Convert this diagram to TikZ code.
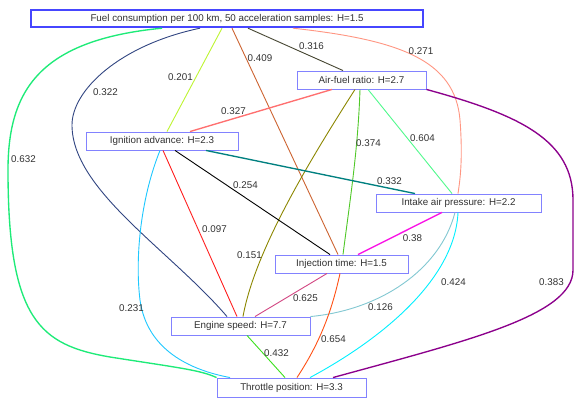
\documentclass[tikz,border=0pt]{standalone}
\usepackage{fontspec}
\setmainfont{Liberation Sans}
\begin{document}
\begin{tikzpicture}[x=1pt,y=-1pt,
  box/.style={draw={rgb,255:red,130;green,130;blue,255}, line width=0.9pt, fill=white, inner sep=0pt, minimum height=18pt, text={rgb,255:red,50;green,50;blue,50}, font=\fontsize{9.8}{11}\selectfont},
  topbox/.style={box, draw={rgb,255:red,70;green,70;blue,255}, line width=2.4pt, minimum height=17pt},
  lbl/.style={inner sep=0pt, text={rgb,255:red,50;green,50;blue,50}, font=\fontsize{9.8}{11}\selectfont},
  edge/.style={line width=0.9pt},
  thick edge/.style={line width=1.35pt}]
\definecolor{cA}{RGB}{30,235,120}
\definecolor{cB}{RGB}{50,70,130}
\definecolor{cC}{RGB}{190,245,50}
\definecolor{cD}{RGB}{205,100,50}
\definecolor{cE}{RGB}{70,70,50}
\definecolor{cF}{RGB}{255,150,130}
\definecolor{cG}{RGB}{255,112,112}
\definecolor{cH}{RGB}{140,135,0}
\definecolor{cI}{RGB}{80,200,40}
\definecolor{cJ}{RGB}{80,250,140}
\definecolor{cK}{RGB}{140,0,140}
\definecolor{cL}{RGB}{0,128,128}
\definecolor{cM}{RGB}{255,32,32}
\definecolor{cN}{RGB}{30,200,255}
\definecolor{cO}{RGB}{250,20,230}
\definecolor{cP}{RGB}{130,200,210}
\definecolor{cQ}{RGB}{0,240,255}
\definecolor{cR}{RGB}{210,70,130}
\definecolor{cS}{RGB}{255,80,20}
\definecolor{cT}{RGB}{60,225,30}
\useasboundingbox (0,0) rectangle (580,403);
\fill[white] (0,0) rectangle (580,403);

\node[topbox, minimum width=392pt] (fuel) at (227,18.5) {Fuel consumption per 100 km, 50 acceleration samples: H=1.5};
\node[box, minimum width=129pt] (afr) at (361.5,80) {Air-fuel ratio: H=2.7};
\node[box, minimum width=152pt] (ign) at (162,141) {Ignition advance: H=2.3};
\node[box, minimum width=165pt] (iap) at (458.5,203) {Intake air pressure: H=2.2};
\node[box, minimum width=133pt] (inj) at (341.5,264) {Injection time: H=1.5};
\node[box, minimum width=139pt] (eng) at (240.5,326) {Engine speed: H=7.7};
\node[box, minimum width=149pt, minimum height=19pt] (thr) at (291.5,387.5) {Throttle position: H=3.3};

% edges from fuel
\draw[thick edge, cA] ([xshift=-65pt]fuel.south) .. controls (40,40) and (8,90) .. (8,170)
   .. controls (8,320) and (40,345) .. (110,357) .. controls (180,368) and (200,370) .. (thr.north west);
\draw[edge, cB] ([xshift=-27pt]fuel.south) .. controls (120,45) and (72,90) .. (72,125)
   .. controls (72,190) and (170,250) .. ([xshift=-13.5pt]eng.north);
\draw[edge, cC] ([xshift=-5pt]fuel.south) -- ([xshift=5pt]ign.north);
\draw[edge, cD] ([xshift=5pt]fuel.south) -- ([xshift=-3.5pt]inj.north);
\draw[edge, cE] ([xshift=21pt]fuel.south) -- ([xshift=-18.5pt]afr.north);
\draw[edge, cF] ([xshift=66pt]fuel.south) .. controls (400,40) and (455,60) .. (460,120)
   .. controls (463,160) and (460,180) .. ([xshift=-0.5pt]iap.north);
% edges from air-fuel ratio
\draw[thick edge, cG] ([xshift=-29.5pt]afr.south) -- ([xshift=28pt]ign.north);
\draw[edge, cH] ([xshift=-6.5pt]afr.south) .. controls (310,160) and (255,250) .. ([xshift=2.5pt]eng.north);
\draw[edge, cI] ([xshift=-1.5pt]afr.south) .. controls (358,150) and (350,200) .. ([xshift=1.5pt]inj.north);
\draw[edge, cJ] ([xshift=6.5pt]afr.south) -- ([xshift=-6.5pt]iap.north);
\draw[thick edge, cK] (afr.south east) .. controls (520,115) and (573,140) .. (573,200) -- (573,270)
   .. controls (573,315) and (470,340) .. ([xshift=41.5pt]thr.north);
% edges from ignition advance
\draw[thick edge, cL] ([xshift=44pt]ign.south) -- ([xshift=-43.5pt]iap.north);
\draw[edge, black] ([xshift=13pt]ign.south) -- ([xshift=-11.5pt]inj.north);
\draw[edge, cM] ([xshift=1pt]ign.south) -- ([xshift=-3.5pt]eng.north);
\draw[edge, cN] ([xshift=-2pt]ign.south) .. controls (140,200) and (135,260) .. (140,300)
   .. controls (147,350) and (190,370) .. ([xshift=-61.5pt]thr.north);
% edges from intake air pressure
\draw[thick edge, cO] ([xshift=-16.5pt]iap.south) -- ([xshift=16.5pt]inj.north);
\draw[edge, cP] ([xshift=-3.5pt]iap.south) .. controls (440,270) and (380,310) .. (eng.north east);
\draw[edge, cQ] ([xshift=-0.5pt]iap.south) .. controls (455,280) and (380,340) .. ([xshift=18.5pt]thr.north);
% edges from injection time
\draw[edge, cR] ([xshift=-14.5pt]inj.south) -- ([xshift=14.5pt]eng.north);
\draw[edge, cS] ([xshift=-1.5pt]inj.south) .. controls (330,320) and (315,350) .. ([xshift=5.5pt]thr.north);
% engine speed to throttle
\draw[edge, cT] ([xshift=6.5pt]eng.south) -- ([xshift=-6.5pt]thr.north);

% labels
\node[lbl] (l316) at (311.5,46) {0.316};
\node[lbl] (l271) at (421,51) {0.271};
\node[lbl] (l201) at (180.5,77) {0.201};
\node[lbl] (l409) at (260,58) {0.409};
\node[lbl] (l322) at (105.5,92) {0.322};
\node[lbl] (l327) at (233.5,111) {0.327};
\node[lbl] (l632) at (23.5,159) {0.632};
\node[lbl] (l374) at (368.5,143) {0.374};
\node[lbl] (l604) at (422.5,138) {0.604};
\node[lbl] (l332) at (389.5,181) {0.332};
\node[lbl] (l254) at (245.5,185) {0.254};
\node[lbl] (l097) at (214.5,229) {0.097};
\node[lbl] (l151) at (249.5,255) {0.151};
\node[lbl] (l38) at (412.5,238) {0.38};
\node[lbl] (l231) at (131.5,308) {0.231};
\node[lbl] (l432) at (276.5,353) {0.432};
\node[lbl] (l625) at (305.5,298) {0.625};
\node[lbl] (l126) at (380.5,307) {0.126};
\node[lbl] (l654) at (333.5,339) {0.654};
\node[lbl] (l424) at (453.5,282) {0.424};
\node[lbl] (l383) at (551.5,282) {0.383};
\end{tikzpicture}
\end{document}
